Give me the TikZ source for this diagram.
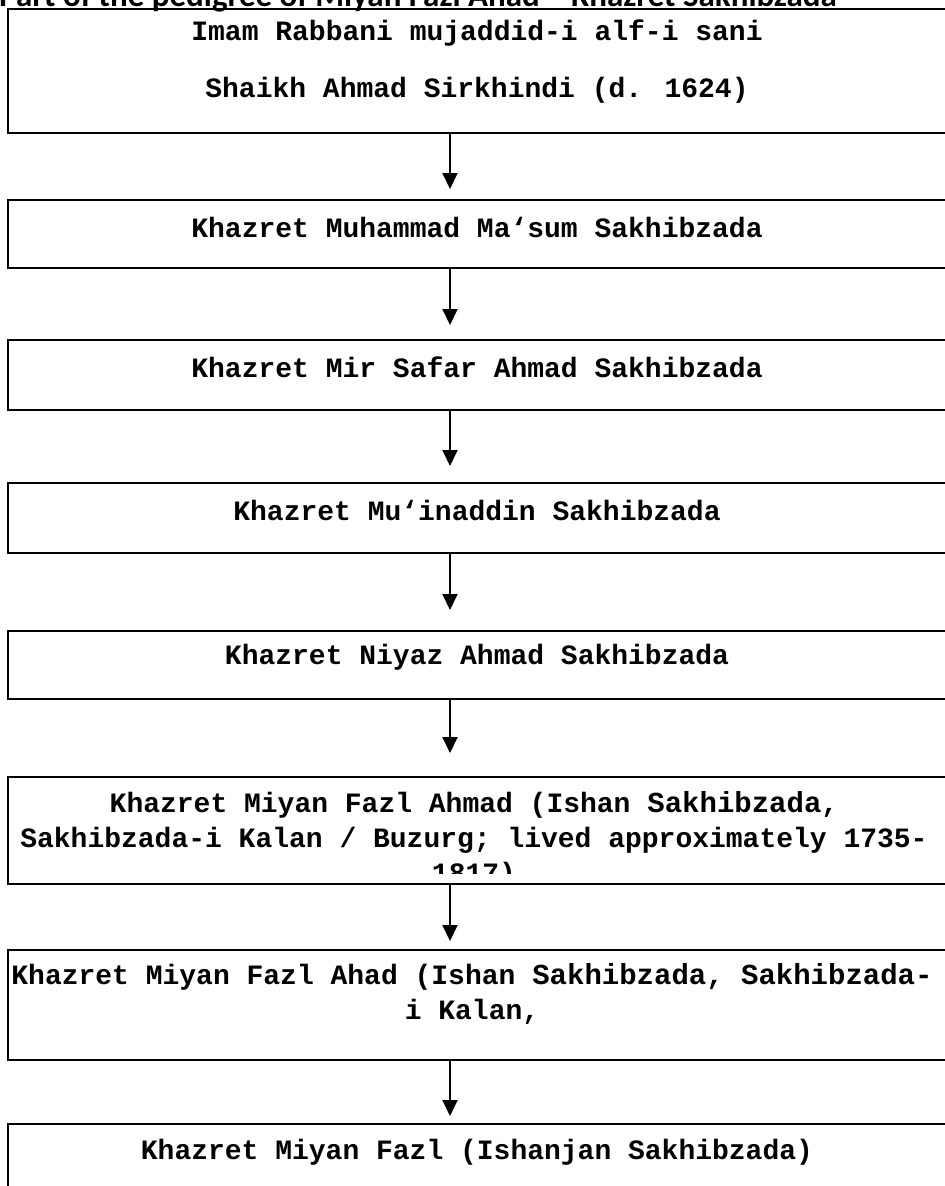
\documentclass[tikz,border=0pt]{standalone}
\usepackage{fontspec}
\setmainfont{Liberation Serif}
\newfontfamily\boxfont{Liberation Mono}
\newfontfamily\titlefont{Carlito}
\usetikzlibrary{arrows.meta}
\newcommand{\bigw}[1]{{\fontsize{29}{35}\selectfont #1}}
\begin{document}
\begin{tikzpicture}[x=1pt,y=-1pt,
  box/.style={draw=black, line width=2pt, minimum width=950pt, anchor=north west, inner sep=0pt},
  txt/.style={font=\boxfont\bfseries\fontsize{28}{35}\selectfont, align=center, inner sep=0pt, anchor=center},
  conn/.style={-{Triangle[width=15pt,length=16pt]}, line width=2pt},
  ttl/.style={font=\titlefont\bfseries\fontsize{33}{36}\selectfont, inner sep=0pt, anchor=base}
]
\useasboundingbox (0,0) rectangle (945,1186);
\coordinate (ax) at (450,0);

\node[ttl] (title) at (418,6) {Part of the pedigree of Miyan Fazl Ahad – Khazret Sakhibzada};

\node[box, minimum height=124pt] (b1) at (7,8) {};
\node[box, minimum height=68pt]  (b2) at (7,199) {};
\node[box, minimum height=70pt]  (b3) at (7,339) {};
\node[box, minimum height=70pt]  (b4) at (7,482) {};
\node[box, minimum height=68pt]  (b5) at (7,630) {};
\node[box, minimum height=107pt] (b6) at (7,776) {};
\node[box, minimum height=110pt] (b7) at (7,949) {};
\node[box, minimum height=120pt] (b8) at (7,1123) {};

\node[txt] (t1a) at (477,33) {Imam Rabbani mujaddid-i alf-i sani};
\node[txt] (t1b) at (477,90) {Shaikh Ahmad Sirkhindi (d. 1624)};
\node[txt] (t2) at (477,227) {Khazret Muhammad Ma‘sum Sakhibzada};
\node[txt] (t3) at (477,367) {Khazret Mir Safar Ahmad Sakhibzada};
\node[txt] (t4) at (477,510) {Khazret Mu‘inaddin Sakhibzada};
\node[txt] (t5) at (477,657) {Khazret Niyaz Ahmad Sakhibzada};
\begin{scope}
  \clip (8,777) rectangle (960,873);
  \node[txt] (t6) at (474,840) {Khazret Miyan Fazl Ahmad (Ishan \bigw{Sakhibzada},\\
    Sakhibzada-i Kalan / Buzurg; lived approximately 1735-\\
    1817)};
\end{scope}
\node[txt] (t7) at (472,994) {Khazret Miyan Fazl Ahad (Ishan \bigw{Sakhibzada, Sakhibzada-}\\
  i Kalan,};
\node[txt] (t8) at (477,1152) {Khazret Miyan Fazl (Ishanjan Sakhibzada)};

\draw[conn, shorten >=10pt] (b1.south -| ax) -- (b2.north -| ax);
\draw[conn, shorten >=14pt] (b2.south -| ax) -- (b3.north -| ax);
\draw[conn, shorten >=16pt] (b3.south -| ax) -- (b4.north -| ax);
\draw[conn, shorten >=20pt] (b4.south -| ax) -- (b5.north -| ax);
\draw[conn, shorten >=23pt] (b5.south -| ax) -- (b6.north -| ax);
\draw[conn, shorten >=8pt]  (b6.south -| ax) -- (b7.north -| ax);
\draw[conn, shorten >=7pt]  (b7.south -| ax) -- (b8.north -| ax);
\end{tikzpicture}
\end{document}
